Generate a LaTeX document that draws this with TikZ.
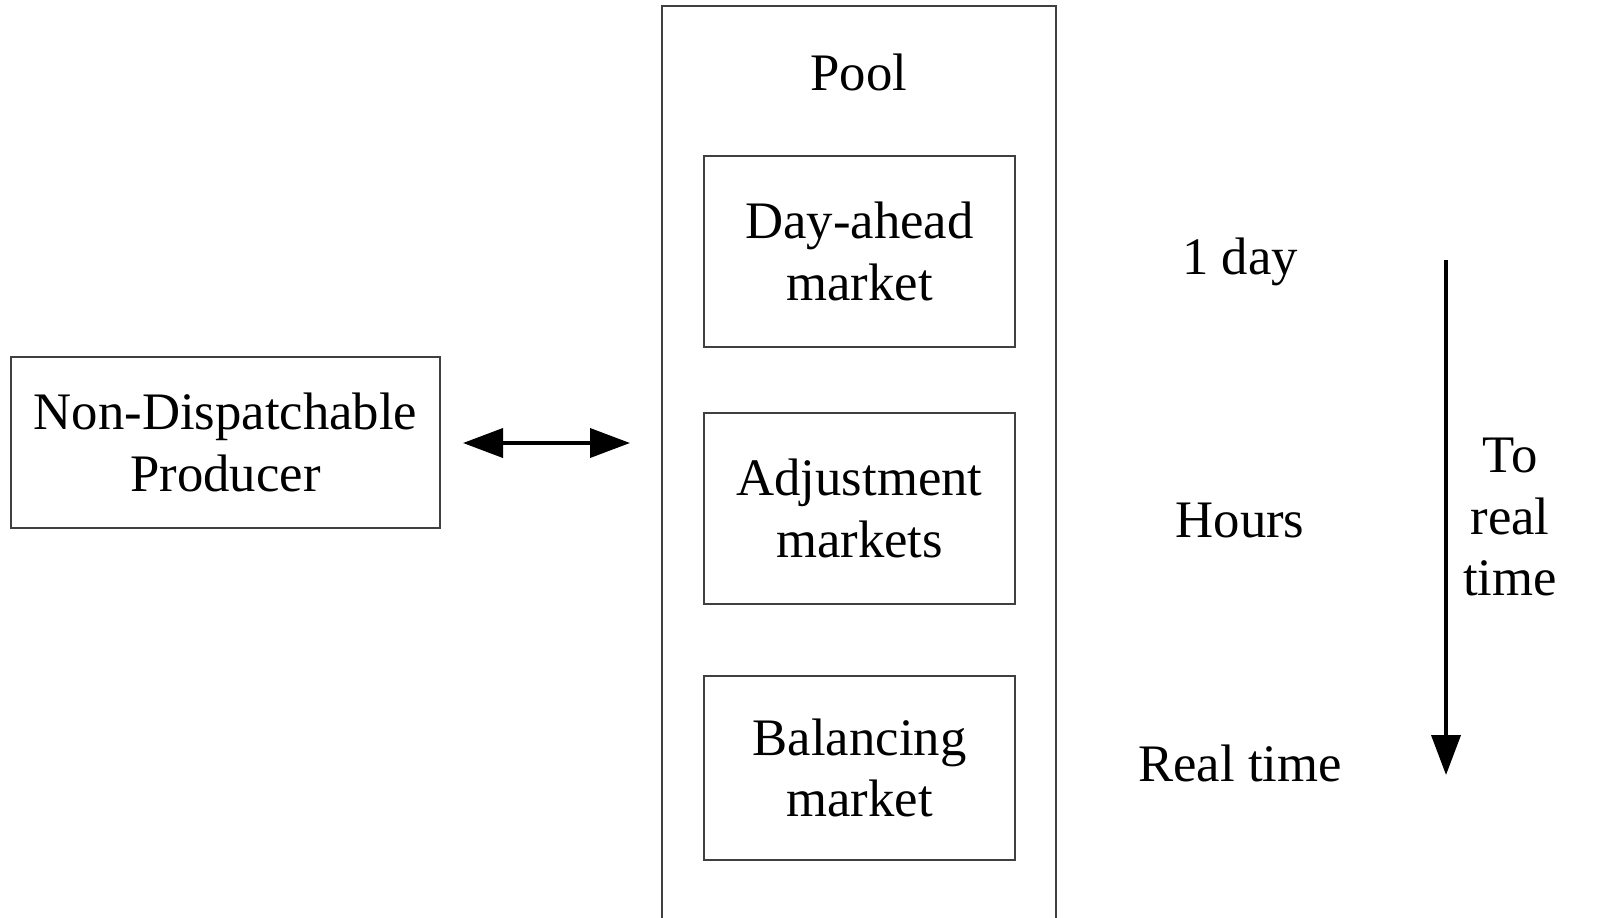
\documentclass[tikz,border=0pt]{standalone}
\usepackage{fontspec}
\setmainfont{Liberation Serif}
\usetikzlibrary{arrows.meta,positioning}
\begin{document}
\begin{tikzpicture}[
        box/.style={draw=black!75, line width=0.6pt, minimum width=3.11cm, minimum height=1.91cm, align=center},
        lbl/.style={font=\fontsize{15}{17.6}\selectfont, align=center},
        big/.style={line width=1.1pt, -{Triangle[length=0.4cm, width=0.29cm]}}
    ]
        \useasboundingbox (0,0) rectangle (16,9.17);
        \clip (0,0) rectangle (16,9.17);
        \draw[draw=black!75, line width=0.6pt] (6.62,-0.5) rectangle (10.56,9.11); % pool
        \node[lbl] (pool) at (8.59,8.45) {Pool};
        \node[box, lbl] (dayahead) at (8.595,6.655) {Day-ahead\\market};
        \node[box, lbl] (adjust) at (8.595,4.085) {Adjustment\\markets};
        \node[box, lbl, minimum height=1.84cm] (balance) at (8.595,1.49) {Balancing\\market};
        \node[box, lbl, minimum width=4.29cm, minimum height=1.71cm] (producer) at (2.255,4.745) {Non-Dispatchable\\Producer};
        \coordinate (pleft) at (4.63,4.74);
        \coordinate (pright) at (6.3,4.74);
        \draw[big, {Triangle[length=0.4cm, width=0.29cm]}-{Triangle[length=0.4cm, width=0.29cm]}] (pleft) -- (pright);
        \node[lbl] (oneday) at (12.4,6.55) {1 day}; % time scale
        \node[lbl] (hours) at (12.4,3.97) {Hours};
        \node[lbl] (realtime) at (12.4,1.54) {Real time};
        \coordinate (ttop) at (14.46,6.57);
        \coordinate (tbot) at (14.46,1.42);
        \draw[big] (ttop) -- (tbot);
        \node[lbl] (toreal) at (15.1,4.0) {To\\real\\time};
    \end{tikzpicture}
\end{document}
